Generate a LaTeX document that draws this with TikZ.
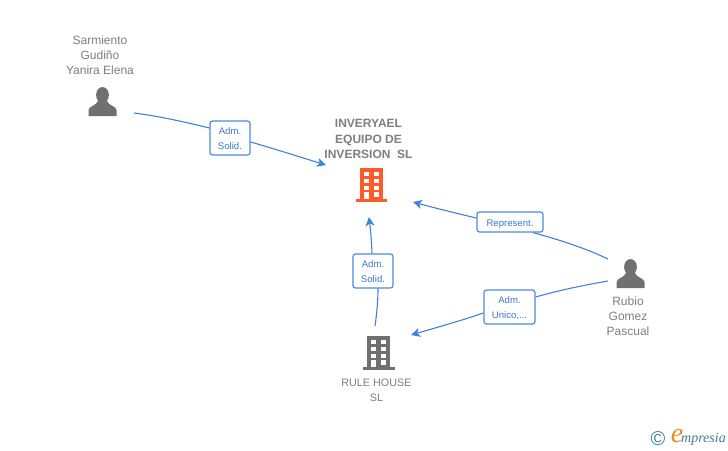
\documentclass[tikz,border=0pt]{standalone}
\usepackage{fontspec}
\setmainfont{Liberation Sans}
\newfontfamily\logofont{Liberation Serif}
\usetikzlibrary{arrows.meta,shapes.misc}
\newcommand\boxtop[1]{\rule{0pt}{#1}}
\definecolor{edgeblue}{HTML}{3F82DC}
\definecolor{boxblue}{HTML}{4A8BE0}
\definecolor{txtblue}{HTML}{3A78D0}
\definecolor{txtgrey}{HTML}{7F7F7F}
\definecolor{icongrey}{HTML}{707070}
\definecolor{orangeicon}{HTML}{FF5A2C}
\definecolor{logoteal}{HTML}{3F7F95}
\definecolor{logoorange}{HTML}{F08A1D}
\tikzset{
  x=1pt,y=-1pt,
  edge/.style={draw=edgeblue,line width=1.1pt},
  arrowedge/.style={edge,-{Stealth[length=9pt,width=9pt,inset=2.5pt]}},
  relbox/.style={draw=boxblue,fill=white,line width=1.2pt,rounded corners=2.5pt,
    inner sep=0pt,align=center,font=\fontsize{9.6}{15}\selectfont,text=txtblue},
  personlabel/.style={align=center,inner sep=0pt,text=txtgrey,font=\fontsize{12}{15}\selectfont},
  titlelabel/.style={align=center,inner sep=0pt,text=txtgrey,font=\fontsize{12}{15.5}\selectfont\bfseries},
  person/.pic={
    \fill[icongrey] (0,-7) ellipse (6.4 and 8);
    \fill[icongrey] (-14,14) -- (-14,8) .. controls (-14,4.5) and (-6,3.5) .. (-4.5,-1)
      -- (4.5,-1) .. controls (6,3.5) and (14,4.5) .. (14,8) -- (14,14) -- cycle;
  },
  building/.pic={
    \fill[pic actions] (-11.5,-16) rectangle (11.5,15);
    \fill[pic actions] (-15.5,15) rectangle (16,18);
    \foreach \yy in {-12.5,-5.5,1.5}{
      \fill[white] (-7.5,\yy) rectangle (-2.5,{\yy+4.5});
      \fill[white] (2.5,\yy) rectangle (7.5,{\yy+4.5});
    }
    \fill[white] (-7.5,8) rectangle (-2.5,15);
    \fill[white] (2.5,8) rectangle (7.5,12.5);
  }
}
\begin{document}
\begin{tikzpicture}
\useasboundingbox (0,0) rectangle (728,450);
\fill[white] (0,0) rectangle (728,450);

% relation boxes
\node[relbox,minimum width=40pt,minimum height=34pt] (b1) at (230,138) {\boxtop{9pt}Adm.\\Solid.};
\node[relbox,minimum width=40pt,minimum height=34pt] (b2) at (373,271) {\boxtop{9pt}Adm.\\Solid.};
\node[relbox,minimum width=66pt,minimum height=20pt] (b3) at (510,222) {\boxtop{10pt}Represent.};
\node[relbox,minimum width=51pt,minimum height=34pt] (b4) at (509.5,307) {\boxtop{9pt}Adm.\\Unico,...};

% connector ends
\coordinate (sarm) at (134,113);
\coordinate (rub1) at (608,259);
\coordinate (rub2) at (608,281);
\coordinate (rule) at (375,326);
\coordinate (inA) at (326,165);
\coordinate (inB) at (369,217);
\coordinate (inC) at (413,202);
\coordinate (ruleIn) at (411,335);

\draw[edge] (sarm) .. controls (158,116) and (185,122) .. (b1.west |- 0,128);
\draw[arrowedge] (b1.east |- 0,142) .. controls (275,149) and (300,157) .. (inA);
\draw[edge] (rule) .. controls (377,312) and (378,300) .. (b2.south -| 378,0);
\draw[arrowedge] (b2.north -| 372,0) .. controls (371.5,240) and (370.5,230) .. (inB);
\draw[edge] (rub1) .. controls (585,248) and (560,240) .. (b3.south -| 533,0);
\draw[arrowedge] (b3.west |- 0,218) .. controls (455,213) and (435,208) .. (inC);
\draw[edge] (rub2) .. controls (585,285) and (560,290) .. (b4.east |- 0,297);
\draw[arrowedge] (b4.west |- 0,313) .. controls (460,321) and (435,328) .. (ruleIn);

% icons
\pic at (102.5,102) {person};
\pic at (630.5,274) {person};
\pic[fill=orangeicon] at (371,184) {building};
\pic[fill=icongrey] at (378.5,352) {building};

% labels
\node[personlabel] (n1) at (100,55) {Sarmiento\\Gudiño\\Yanira Elena};
\node[personlabel] (n2) at (628,316) {Rubio\\Gomez\\Pascual};
\node[titlelabel] (n3) at (368.5,139) {INVERYAEL\\EQUIPO DE\\INVERSION\ \ SL};
\node[personlabel,font=\fontsize{10.8}{15}\selectfont] (n4) at (376.5,390) {RULE HOUSE\\SL};

% logo
\node[inner sep=0pt,text=logoteal,font=\fontsize{20}{20}\selectfont] (c) at (658,439) {©};
\node[inner sep=0pt,text=logoorange,font=\logofont\itshape\fontsize{28}{28}\selectfont] (e) at (677,436) {e};
\node[inner sep=0pt,text=logoteal,anchor=west,font=\logofont\itshape\fontsize{14}{15}\selectfont] (m) at (681,439) {mpresia};
\end{tikzpicture}
\end{document}
